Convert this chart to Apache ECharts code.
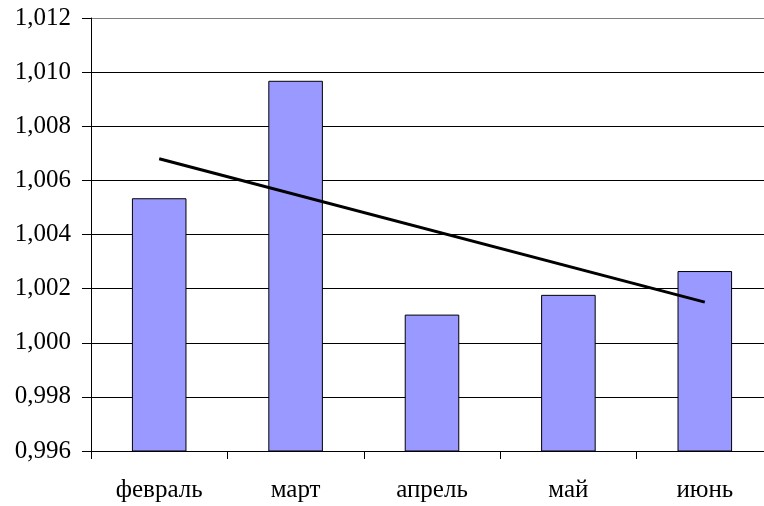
<!DOCTYPE html>
<html>
<head>
<meta charset="utf-8">
<title>Индекс по месяцам</title>
<script src="https://cdn.jsdelivr.net/npm/echarts@6/dist/echarts.min.js"></script>
<style>
  html, body { margin: 0; padding: 0; background: #ffffff; }
  #chart { width: 764px; height: 506px; }
</style>
</head>
<body>
<div id="chart"></div>
<script>
// Months on the category axis
const months = ['февраль', 'март', 'апрель', 'май', 'июнь'];
// Monthly index values (bars)
const indexValues = [1.00534, 1.00968, 1.00104, 1.00177, 1.00265];
// Linear trend line: first and last month, straight segment between them
const trendValues = [1.0068, null, null, null, 1.0015];
// Value axis ticks
const yTicks = [0.996, 0.998, 1.000, 1.002, 1.004, 1.006, 1.008, 1.010, 1.012];

const fontFamily = '"Liberation Serif", "Times New Roman", serif';

const chart = echarts.init(document.getElementById('chart'), null, { renderer: 'canvas' });

// grid lines: black, except the top edge of the plot which is grey
const splitColors = yTicks.map((t, i) => (i === yTicks.length - 1 ? '#808080' : '#000000'));

chart.setOption({
  animation: false,
  backgroundColor: '#ffffff',
  // the plot area runs a little past the right edge of the canvas
  grid: { left: 91, top: 18, width: 682, height: 433, containLabel: false, outerBoundsMode: 'none' },
  xAxis: {
    type: 'category',
    data: months,
    boundaryGap: true,
    axisLine: { lineStyle: { color: '#000000', width: 1 } },
    axisTick: { show: true, alignWithLabel: false, length: 8, lineStyle: { color: '#000000' } },
    axisLabel: { color: '#000000', fontFamily, fontSize: 25, margin: 27 }
  },
  yAxis: {
    type: 'value',
    min: yTicks[0],
    max: yTicks[yTicks.length - 1],
    interval: 0.002,
    axisLine: { show: true, lineStyle: { color: '#000000', width: 1 } },
    axisTick: { show: true, length: 9, lineStyle: { color: '#000000' } },
    axisLabel: {
      color: '#000000', fontFamily, fontSize: 25, margin: 20,
      formatter: v => v.toFixed(3).replace('.', ',')
    },
    splitLine: { show: true, lineStyle: { color: splitColors, width: 1 } }
  },
  series: [
    {
      type: 'bar',
      data: indexValues,
      barWidth: '40%',
      itemStyle: { color: '#9999ff', borderColor: '#000000', borderWidth: 1 },
      z: 2
    },
    {
      type: 'line',
      data: trendValues,
      connectNulls: true,
      symbol: 'none',
      lineStyle: { color: '#000000', width: 3 },
      z: 3
    }
  ]
});
</script>
</body>
</html>
